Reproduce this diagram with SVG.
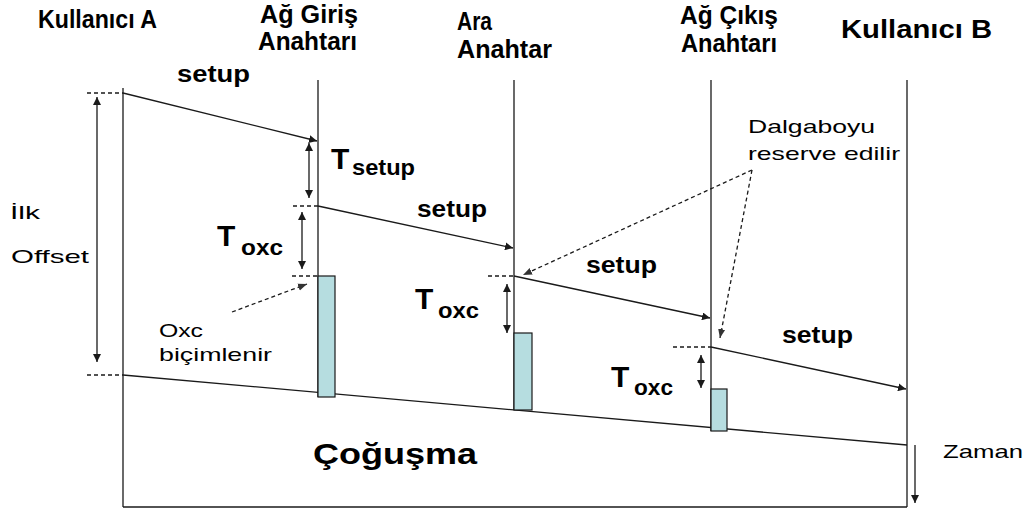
<svg xmlns="http://www.w3.org/2000/svg" width="1036" height="511" viewBox="0 0 1036 511">
  <style>
    .ln { stroke: #1a1a1a; stroke-width: 1.3; fill: none; }
    .dash { stroke: #1a1a1a; stroke-width: 1.3; fill: none; stroke-dasharray: 4 3; }
    .box { fill: #b6dde0; stroke: #1a1a1a; stroke-width: 1.2; }
    .hdr { font-family: "Liberation Sans", Arial, sans-serif; font-weight: bold; font-size: 25px; fill: #000; }
    .lbl { font-family: "Liberation Sans", Arial, sans-serif; font-weight: bold; font-size: 23px; fill: #000; }
    .big { font-family: "Liberation Sans", Arial, sans-serif; font-weight: bold; font-size: 30px; fill: #000; }
    .sub { font-family: "Liberation Sans", Arial, sans-serif; font-weight: bold; font-size: 22px; fill: #000; }
    .txt { font-family: "Liberation Sans", Arial, sans-serif; font-size: 19px; fill: #000; }
  </style>
  <defs>
    <marker id="ah" viewBox="0 0 10 10" refX="10" refY="5" markerWidth="8" markerHeight="8" markerUnits="userSpaceOnUse" orient="auto-start-reverse">
      <path d="M0,0 L10,5 L0,10 z" fill="#1a1a1a"/>
    </marker>
    <marker id="ahd" viewBox="0 0 10 10" refX="10" refY="5" markerWidth="9" markerHeight="9" markerUnits="userSpaceOnUse" orient="auto">
      <path d="M0,1 L10,5 L0,9 z" fill="#333"/>
    </marker>
  </defs>
  <rect width="1036" height="511" fill="#fff"/>

  <!-- participants: header label and lifeline -->
  <g id="user-a">
    <text class="hdr" x="38" y="28" textLength="119" lengthAdjust="spacingAndGlyphs">Kullanıcı A</text>
    <line class="ln" x1="123" y1="88" x2="123" y2="507"/>
  </g>
  <g id="ingress-switch">
    <text class="hdr" x="260" y="23" textLength="98" lengthAdjust="spacingAndGlyphs">Ağ Giriş</text>
    <text class="hdr" x="258" y="50" textLength="99" lengthAdjust="spacingAndGlyphs">Anahtarı</text>
    <line class="ln" x1="318" y1="80" x2="318" y2="397"/>
  </g>
  <g id="core-switch">
    <text class="hdr" x="457" y="30" textLength="35" lengthAdjust="spacingAndGlyphs">Ara</text>
    <text class="hdr" x="457" y="58" textLength="95" lengthAdjust="spacingAndGlyphs">Anahtar</text>
    <line class="ln" x1="514" y1="80" x2="514" y2="410"/>
  </g>
  <g id="egress-switch">
    <text class="hdr" x="680" y="24" textLength="98" lengthAdjust="spacingAndGlyphs">Ağ Çıkış</text>
    <text class="hdr" x="681" y="52" textLength="96" lengthAdjust="spacingAndGlyphs">Anahtarı</text>
    <line class="ln" x1="711" y1="80" x2="711" y2="431"/>
  </g>
  <g id="user-b">
    <text class="hdr" x="841" y="38" textLength="151" lengthAdjust="spacingAndGlyphs">Kullanıcı B</text>
    <line class="ln" x1="907" y1="80" x2="907" y2="507"/>
  </g>

  <!-- connectors: setup messages, burst, timing and callouts -->
  <g id="connectors">
    <line class="ln" x1="123" y1="507" x2="907" y2="507"/>
    <!-- setup hops -->
    <line class="ln" x1="123" y1="93" x2="317" y2="141" marker-end="url(#ah)"/>
    <line class="ln" x1="318" y1="206" x2="513" y2="248" marker-end="url(#ah)"/>
    <line class="ln" x1="514" y1="276" x2="710" y2="318" marker-end="url(#ah)"/>
    <line class="ln" x1="711" y1="347" x2="906" y2="389" marker-end="url(#ah)"/>
    <!-- burst trajectory -->
    <line class="ln" x1="123" y1="375" x2="907" y2="445"/>
    <!-- dashed reference ticks -->
    <line class="dash" x1="87" y1="93" x2="123" y2="93"/>
    <line class="dash" x1="87" y1="375" x2="123" y2="375"/>
    <line class="dash" x1="293" y1="206" x2="318" y2="206"/>
    <line class="dash" x1="292" y1="276" x2="318" y2="276"/>
    <line class="dash" x1="488" y1="276" x2="514" y2="276"/>
    <line class="dash" x1="673" y1="347" x2="711" y2="347"/>
    <!-- offset and processing delays -->
    <line class="ln" x1="97" y1="97" x2="97" y2="362" marker-start="url(#ah)" marker-end="url(#ah)"/>
    <line class="ln" x1="309" y1="143" x2="309" y2="198" marker-start="url(#ah)" marker-end="url(#ah)"/>
    <line class="ln" x1="302" y1="212" x2="302" y2="269" marker-start="url(#ah)" marker-end="url(#ah)"/>
    <line class="ln" x1="507" y1="284" x2="507" y2="333" marker-start="url(#ah)" marker-end="url(#ah)"/>
    <line class="ln" x1="701" y1="355" x2="701" y2="388" marker-start="url(#ah)" marker-end="url(#ah)"/>
    <!-- time axis -->
    <line class="ln" x1="915" y1="445" x2="915" y2="503" marker-end="url(#ah)"/>
    <!-- callouts -->
    <line class="dash" x1="232" y1="312" x2="307" y2="284" marker-end="url(#ahd)"/>
    <line class="dash" x1="752" y1="170" x2="523" y2="275" marker-end="url(#ahd)"/>
    <line class="dash" x1="752" y1="170" x2="720" y2="338" marker-end="url(#ahd)"/>
  </g>

  <!-- switch configuration blocks -->
  <g id="oxc-blocks">
    <rect class="box" x="318" y="276" width="17" height="121"/>
    <rect class="box" x="514" y="333" width="18" height="77"/>
    <rect class="box" x="711" y="389" width="16" height="42"/>
  </g>

  <!-- labels -->
  <g id="labels">
    <text class="lbl" x="177" y="82" textLength="73" lengthAdjust="spacingAndGlyphs">setup</text>
    <text class="lbl" x="417" y="217" textLength="70" lengthAdjust="spacingAndGlyphs">setup</text>
    <text class="lbl" x="586" y="273" textLength="71" lengthAdjust="spacingAndGlyphs">setup</text>
    <text class="lbl" x="782" y="343" textLength="71" lengthAdjust="spacingAndGlyphs">setup</text>

    <text class="big" x="331" y="169">T</text>
    <text class="sub" x="352" y="175" textLength="63" lengthAdjust="spacingAndGlyphs">setup</text>

    <text class="big" x="217" y="246">T</text>
    <text class="sub" x="241" y="255" textLength="42" lengthAdjust="spacingAndGlyphs">oxc</text>
    <text class="big" x="415" y="309">T</text>
    <text class="sub" x="438" y="318" textLength="41" lengthAdjust="spacingAndGlyphs">oxc</text>
    <text class="big" x="611" y="387">T</text>
    <text class="sub" x="634" y="395" textLength="39" lengthAdjust="spacingAndGlyphs">oxc</text>

    <text class="txt" x="10" y="219" textLength="30" lengthAdjust="spacingAndGlyphs">İlk</text>
    <text class="txt" x="11" y="263" textLength="78" lengthAdjust="spacingAndGlyphs">Offset</text>
    <text class="txt" x="159" y="337" textLength="44" lengthAdjust="spacingAndGlyphs">Oxc</text>
    <text class="txt" x="159" y="361" textLength="113" lengthAdjust="spacingAndGlyphs">biçimlenir</text>
    <text class="txt" x="748" y="133" textLength="127" lengthAdjust="spacingAndGlyphs">Dalgaboyu</text>
    <text class="txt" x="748" y="160" textLength="152" lengthAdjust="spacingAndGlyphs">reserve edilir</text>
    <text class="txt" x="943" y="458" textLength="80" lengthAdjust="spacingAndGlyphs">Zaman</text>
    <text class="big" x="313" y="464" textLength="164" lengthAdjust="spacingAndGlyphs">Çoğuşma</text>
  </g>
</svg>
